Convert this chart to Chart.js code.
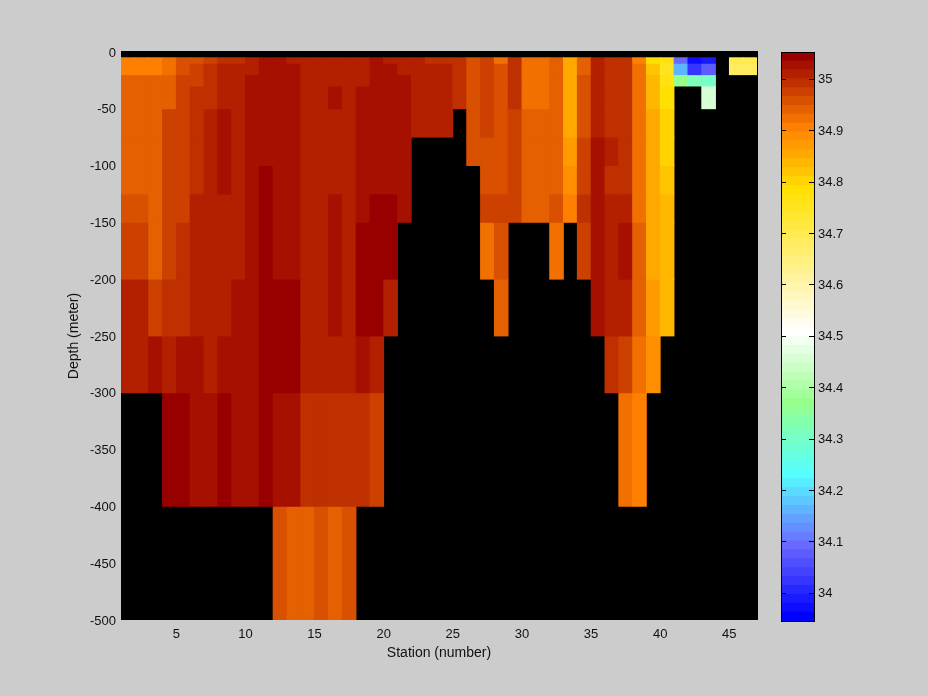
<!DOCTYPE html>
<html>
<head>
<meta charset="utf-8">
<title>Salinity section</title>
<script src="https://cdn.jsdelivr.net/npm/chart.js@4/dist/chart.umd.min.js"></script>
<style>
  body { margin: 0; background: #cccccc; }
  canvas { position: absolute; left: 0; top: 0; }
</style>
</head>
<body>
<canvas id="section" width="928" height="696"></canvas>
<canvas id="colorbar" width="928" height="696"></canvas>
<script>
var _ = null;

// stations, each cell runs from station to station + 1
var stations = [1,2,3,4,5,6,7,8,9,10,11,12,13,14,15,16,17,18,19,20,21,22,23,24,25,26,27,28,29,30,31,32,33,34,35,36,37,38,39,40,41,42,43,44,45,46];
var stationTicks = [5,10,15,20,25,30,35,40,45];
var depthTop =    [-5,-10,-20,-30,-50,-75,-100,-125,-150,-200,-250,-300,-400];
var depthBottom = [-10,-20,-30,-50,-75,-100,-125,-150,-200,-250,-300,-400,-500];
var barTicks = [34,34.1,34.2,34.3,34.4,34.5,34.6,34.7,34.8,34.9,35];

// salinity per depth layer, stations 1..46
var sal5 = [34.91,34.91,34.91,34.92,34.96,34.96,34.97,34.99,34.99,35.01, 35.03,35.03,35.01,35.01,35.01,35.01,35.01,35.01,35.03,35.01, 35.01,35.01,34.99,34.99,34.99,34.96,34.97,34.92,34.99,34.92, 34.92,34.94,34.85,34.94,35.01,34.99,34.99,34.91,34.78,34.77, 34.09,33.97,33.99,_,34.70,34.70];
var sal10 = [34.91,34.91,34.91,34.92,34.96,34.97,34.99,35.01,35.01,35.01, 35.03,35.03,35.03,35.01,35.01,35.01,35.01,35.01,35.03,35.03, 35.01,35.01,35.01,35.01,34.99,34.96,34.97,34.96,34.99,34.92, 34.92,34.94,34.85,34.94,35.01,34.99,34.99,34.92,34.82,34.75, 34.16,34.02,34.08,_,34.68,34.68];
var sal20 = [34.94,34.94,34.94,34.94,34.97,34.97,34.99,35.01,35.01,35.03, 35.03,35.03,35.03,35.01,35.01,35.01,35.01,35.01,35.03,35.03, 35.03,35.01,35.01,35.01,34.99,34.96,34.97,34.96,34.99,34.92, 34.92,34.94,34.85,34.96,35.01,34.99,34.99,34.92,34.84,34.77, 34.37,34.32,34.30,_,_,_];
var sal30 = [34.94,34.94,34.94,34.94,34.97,34.99,34.99,35.01,35.01,35.03, 35.03,35.03,35.03,35.01,35.01,35.03,35.01,35.03,35.03,35.03, 35.03,35.01,35.01,35.01,34.99,34.96,34.97,34.96,34.99,34.92, 34.92,34.94,34.85,34.96,35.01,34.99,34.99,34.92,34.84,34.78, _,_,34.45,_,_,_];
var sal50 = [34.94,34.94,34.94,34.97,34.97,34.99,35.01,35.03,35.01,35.03, 35.03,35.03,35.03,35.01,35.01,35.01,35.01,35.03,35.03,35.03, 35.03,35.01,35.01,35.01,_,34.96,34.97,34.96,34.97,34.94, 34.94,34.94,34.85,34.96,35.01,34.99,34.99,34.92,34.85,34.80, _,_,_,_,_,_];
var sal75 = [34.94,34.94,34.94,34.97,34.97,34.99,35.01,35.03,35.01,35.03, 35.03,35.03,35.03,35.01,35.01,35.01,35.01,35.03,35.03,35.03, 35.03,_,_,_,_,34.96,34.96,34.96,34.97,34.94, 34.94,34.94,34.87,34.97,35.03,35.01,34.99,34.92,34.85,34.80, _,_,_,_,_,_];
var sal100 = [34.94,34.94,34.94,34.97,34.97,34.99,35.01,35.03,35.01,35.03, 35.04,35.03,35.03,35.01,35.01,35.01,35.01,35.03,35.03,35.03, 35.03,_,_,_,_,_,34.96,34.96,34.97,34.94, 34.94,34.94,34.89,34.97,35.03,34.99,34.99,34.92,34.85,34.82, _,_,_,_,_,_];
var sal125 = [34.96,34.96,34.94,34.97,34.97,35.01,35.01,35.01,35.01,35.03, 35.04,35.03,35.03,35.01,35.01,35.03,35.01,35.03,35.04,35.04, 35.03,_,_,_,_,_,34.97,34.97,34.97,34.94, 34.94,34.96,34.91,34.99,35.03,35.01,35.01,34.92,34.85,34.84, _,_,_,_,_,_];
var sal150 = [34.97,34.97,34.94,34.97,34.99,35.01,35.01,35.01,35.01,35.03, 35.04,35.03,35.03,35.01,35.01,35.03,35.01,35.04,35.04,35.04, _,_,_,_,_,_,34.92,34.96,_,_, _,34.92,_,34.97,35.03,35.01,35.03,34.94,34.85,34.84, _,_,_,_,_,_];
var sal200 = [35.01,35.01,34.97,34.99,34.99,35.01,35.01,35.01,35.03,35.03, 35.04,35.04,35.04,35.01,35.01,35.03,35.01,35.04,35.04,35.01, _,_,_,_,_,_,_,34.94,_,_, _,_,_,_,35.03,35.01,35.01,34.94,34.87,34.84, _,_,_,_,_,_];
var sal250 = [35.01,35.01,35.03,35.01,35.03,35.03,35.01,35.03,35.03,35.03, 35.04,35.04,35.04,35.01,35.01,35.01,35.01,35.03,35.01,_, _,_,_,_,_,_,_,_,_,_, _,_,_,_,_,34.99,34.97,34.92,34.89,_, _,_,_,_,_,_];
var sal300 = [_,_,_,35.04,35.04,35.03,35.03,35.04,35.03,35.03, 35.04,35.03,35.03,34.99,34.99,34.99,34.99,34.99,34.97,_, _,_,_,_,_,_,_,_,_,_, _,_,_,_,_,_,34.92,34.91,_,_, _,_,_,_,_,_];
var sal400 = [_,_,_,_,_,_,_,_,_,_, _,34.96,34.94,34.94,34.96,34.94,34.96,_,_,_, _,_,_,_,_,_,_,_,_,_, _,_,_,_,_,_,_,_,_,_, _,_,_,_,_,_];
var layers = [sal5,sal10,sal20,sal30,sal50,sal75,sal100,sal125,sal150,sal200,sal250,sal300,sal400];

// colour scale
var salMin = 33.945, salMax = 35.052, nColors = 64;
var colorStops = [
  [0,0,0,255],[8,105,105,255],[16,85,255,255],[24,150,255,140],[32,255,255,255],
  [48,255,224,0],[55,255,128,0],[63,152,0,0]
];

function colorOfLevel(k) {
  for (var i = 1; i < colorStops.length; i++) {
    if (k <= colorStops[i][0]) {
      var a = colorStops[i-1], b = colorStops[i];
      var t = (k - a[0]) / (b[0] - a[0]);
      return 'rgb(' + Math.round(a[1] + t*(b[1]-a[1])) + ',' + Math.round(a[2] + t*(b[2]-a[2])) + ',' + Math.round(a[3] + t*(b[3]-a[3])) + ')';
    }
  }
}

function colorOfValue(v) {
  var k = Math.floor((v - salMin) / (salMax - salMin) * nColors);
  return colorOfLevel(Math.max(0, Math.min(nColors - 1, k)));
}

var tickFont = { family: '"Liberation Sans", Arial, sans-serif', size: 13 };
var titleFont = { family: '"Liberation Sans", Arial, sans-serif', size: 14 };
var inkColor = '#111';

var sectionDatasets = layers.map(function (values, r) {
  var cells = [], colors = [];
  stations.forEach(function (st, i) {
    if (values[i] === null) return;
    cells.push({ x: st + 0.5, y: [depthBottom[r], depthTop[r]] });
    colors.push(colorOfValue(values[i]));
  });
  return {
    data: cells,
    backgroundColor: colors,
    borderWidth: 0,
    inflateAmount: 0.4,
    grouped: false,
    barPercentage: 1,
    categoryPercentage: 1
  };
});

// black behind the cells, missing data stays black
var blackBackground = {
  id: 'blackBackground',
  beforeDatasetsDraw: function (chart) {
    var a = chart.chartArea, c = chart.ctx;
    c.save();
    c.fillStyle = '#000';
    c.fillRect(a.left, a.top - 1, a.right - a.left + 1, a.bottom - a.top + 1);
    c.restore();
  }
};

new Chart(document.getElementById('section').getContext('2d'), {
  type: 'bar',
  data: { datasets: sectionDatasets },
  plugins: [blackBackground],
  options: {
    responsive: false,
    animation: false,
    layout: { padding: { left: 66, top: 52, right: 171, bottom: 34 } },
    plugins: { legend: { display: false }, tooltip: { enabled: false } },
    scales: {
      x: {
        type: 'linear', min: 1, max: 47, offset: false,
        grid: { display: false, offset: false, drawTicks: false }, border: { display: false },
        afterBuildTicks: function (s) { s.ticks = stationTicks.map(function (v) { return { value: v }; }); },
        afterFit: function (s) { s.height = 42; },
        ticks: { color: inkColor, font: tickFont, maxRotation: 0, autoSkip: false, padding: 7 },
        title: { display: true, text: 'Station (number)', color: inkColor, font: titleFont, padding: 0 }
      },
      y: {
        type: 'linear', min: -500, max: 0,
        grid: { display: false, drawTicks: false }, border: { display: false },
        afterFit: function (s) { s.width = 55; },
        ticks: { color: inkColor, font: tickFont, stepSize: 50, padding: 5, labelOffset: 1 },
        title: { display: true, text: 'Depth (meter)', color: inkColor, font: titleFont, padding: 0 }
      }
    }
  }
});

// colour bar, one bar per colour level
var barDatasets = [];
for (var k = 0; k < nColors; k++) {
  var step = (salMax - salMin) / nColors;
  barDatasets.push({
    data: [{ x: 'c', y: [salMin + k*step, salMin + (k+1)*step] }],
    backgroundColor: colorOfLevel(k),
    borderWidth: 0,
    inflateAmount: 0.4,
    grouped: false,
    barPercentage: 1,
    categoryPercentage: 1
  });
}

var barFrame = {
  id: 'barFrame',
  afterDatasetsDraw: function (chart) {
    var a = chart.chartArea, c = chart.ctx, sc = chart.scales.y;
    c.save();
    c.strokeStyle = '#000';
    c.lineWidth = 1;
    c.strokeRect(a.left + 0.5, a.top + 0.5, a.right - a.left, a.bottom - a.top);
    c.beginPath();
    barTicks.forEach(function (v) {
      var py = Math.round(sc.getPixelForValue(v)) + 0.5;
      c.moveTo(a.left, py); c.lineTo(a.left + 5, py);
      c.moveTo(a.right - 5, py); c.lineTo(a.right, py);
    });
    c.stroke();
    c.restore();
  }
};

new Chart(document.getElementById('colorbar').getContext('2d'), {
  type: 'bar',
  data: { labels: ['c'], datasets: barDatasets },
  plugins: [barFrame],
  options: {
    responsive: false,
    animation: false,
    layout: { padding: { left: 781, top: 52, right: 0, bottom: 75 } },
    plugins: { legend: { display: false }, tooltip: { enabled: false } },
    scales: {
      x: { display: false },
      y: {
        position: 'right', min: salMin, max: salMax,
        grid: { display: false, drawTicks: false }, border: { display: false },
        afterBuildTicks: function (s) { s.ticks = barTicks.map(function (v) { return { value: v }; }); },
        afterFit: function (s) { s.width = 114; },
        ticks: { color: inkColor, font: tickFont, padding: 4, labelOffset: 1, callback: function (v) { return String(v); } }
      }
    }
  }
});
</script>
</body>
</html>
